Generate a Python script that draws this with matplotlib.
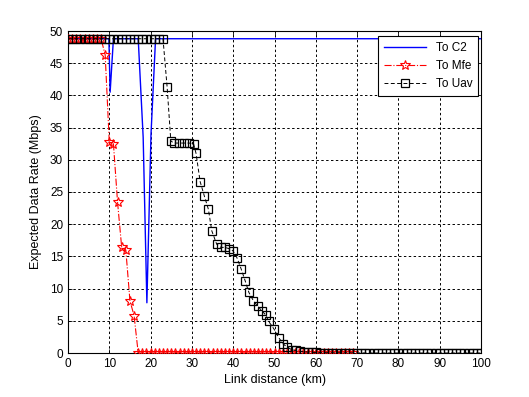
import matplotlib
matplotlib.use("Agg")
import matplotlib.pyplot as plt

plt.rcParams['font.family'] = ['Liberation Sans', 'DejaVu Sans']

# ---- data ----
c2_x = [0, 9.9, 10.2, 11.0, 17.0, 18.2, 19.1, 20.1, 21.2, 100]
c2_y = [48.8, 48.8, 40.5, 48.8, 48.8, 33.5, 7.8, 34.0, 48.8, 48.8]

mfe_x = [0, 1, 2, 3, 4, 5, 6, 7, 8, 9, 10, 11, 12, 13, 14, 15, 16, 17, 18, 19,
         20, 21, 22, 23, 24, 25, 26, 27, 28, 29, 30, 31, 32, 33, 34, 35, 36, 37, 38, 39,
         40, 41, 42, 43, 44, 45, 46, 47, 48, 49, 50, 51, 52, 53, 54, 55, 56, 57, 58, 59,
         60, 61, 62, 63, 64, 65, 66, 67, 68, 69]
mfe_y = [48.8, 48.8, 48.8, 48.8, 48.8, 48.8, 48.8, 48.8, 48.8, 46.3,
         32.7, 32.5, 23.4, 16.4, 16.0, 8.1, 5.8, 0.0, 0.0, 0.0,
         0.0, 0.0, 0.0, 0.0, 0.0, 0.0, 0.0, 0.0, 0.0, 0.0,
         0.0, 0.0, 0.0, 0.0, 0.0, 0.0, 0.0, 0.0, 0.0, 0.0,
         0.0, 0.0, 0.0, 0.0, 0.0, 0.0, 0.0, 0.0, 0.0, 0.0,
         0.0, 0.0, 0.0, 0.0, 0.0, 0.0, 0.0, 0.0, 0.0, 0.0,
         0.0, 0.0, 0.0, 0.0, 0.0, 0.0, 0.0, 0.0, 0.0, 0.0]

uav_x = [0, 1, 2, 3, 4, 5, 6, 7, 8, 9, 10, 11, 12, 13, 14, 15, 16, 17, 18, 19,
         20, 21, 22, 23,
         24.0, 24.9, 25.7, 26.9, 28.1, 29.3, 30.4, 31.0, 32.0, 33.0, 34.0, 34.8,
         36.0, 37.0, 38.0, 39.0, 39.9, 40.9, 41.9, 42.9, 43.8, 44.9, 45.9, 47.0,
         47.9, 48.6, 49.9, 51.0, 52.1, 53.1, 54.2, 55.1, 56.2, 57.1, 58.0,
         59, 60, 61, 62, 63, 64, 65, 66, 67, 68, 69, 70, 71, 72, 73, 74, 75, 76, 77, 78, 79,
         80, 81, 82, 83, 84, 85, 86, 87, 88, 89, 90, 91, 92, 93, 94, 95, 96, 97, 98, 99, 100]
uav_y = [48.8, 48.8, 48.8, 48.8, 48.8, 48.8, 48.8, 48.8, 48.8, 48.8,
         48.8, 48.8, 48.8, 48.8, 48.8, 48.8, 48.8, 48.8, 48.8, 48.8,
         48.8, 48.8, 48.8, 48.8,
         41.3, 32.9, 32.6, 32.6, 32.6, 32.6, 32.5, 31.0, 26.6, 24.4, 22.3, 19.0,
         16.9, 16.4, 16.4, 16.2, 15.9, 14.8, 13.1, 11.2, 9.4, 8.1, 7.3, 6.5,
         5.9, 4.9, 3.7, 2.4, 1.4, 0.9, 0.5, 0.4, 0.25, 0.2, 0.15,
         0.1, 0.08, 0.06, 0.05, 0.04, 0.03, 0.03, 0.02, 0.02, 0.02, 0.01,
         0.01, 0.01, 0.01, 0.01, 0.0, 0.0, 0.0, 0.0, 0.0, 0.0,
         0.0, 0.0, 0.0, 0.0, 0.0, 0.0, 0.0, 0.0, 0.0, 0.0,
         0.0, 0.0, 0.0, 0.0, 0.0, 0.0, 0.0, 0.0, 0.0, 0.0, 0.0]

x_ticks = [0, 10, 20, 30, 40, 50, 60, 70, 80, 90, 100]
y_ticks = [0, 5, 10, 15, 20, 25, 30, 35, 40, 45, 50]
labels = ["To C2", "To Mfe", "To Uav"]

fig = plt.figure(figsize=(5.29, 3.97), dpi=100)
fig.patch.set_facecolor('white')
ax = fig.add_axes([68/529, 1 - 353/397, (481 - 68)/529, (353 - 31)/397])

ax.plot(c2_x, c2_y, color='#0000ff', linewidth=1.0, label=labels[0], zorder=3)
ax.plot(mfe_x, mfe_y, color='#ff0000', linestyle='-.', linewidth=0.8, marker='*',
        markersize=7, markerfacecolor='none', markeredgecolor='#ff0000',
        markeredgewidth=0.8, label=labels[1], zorder=4)
ax.plot(uav_x, uav_y, color='black', linestyle=(0, (4, 2.5)), linewidth=0.7, marker='s',
        markersize=6, markerfacecolor='none', markeredgecolor='black',
        markeredgewidth=0.9, label=labels[2], zorder=5)

ax.set_xlim(0, 100)
ax.set_ylim(0, 50)
ax.set_xticks(x_ticks)
ax.set_yticks(y_ticks)
ax.tick_params(direction='in', length=3, labelsize=8.5, top=True, right=True,
               colors='black', width=0.6)
ax.grid(True, color='black', linestyle=(0, (2.5, 2.5)), linewidth=0.7)
ax.set_axisbelow(True)
for s in ax.spines.values():
    s.set_linewidth(0.8)
    s.set_color('black')

ax.set_xlabel("Link distance (km)", fontsize=9, labelpad=3)
ax.set_ylabel("Expected Data Rate (Mbps)", fontsize=9, labelpad=6)

leg = ax.legend(loc='upper right', bbox_to_anchor=(0.993, 0.984), borderaxespad=0,
                fontsize=8.5, frameon=True, fancybox=False, handlelength=3.6,
                edgecolor='black', framealpha=1, borderpad=0.5, labelspacing=0.5)
leg.get_frame().set_linewidth(0.8)

fig.savefig("out.png", dpi=100, facecolor='white')
